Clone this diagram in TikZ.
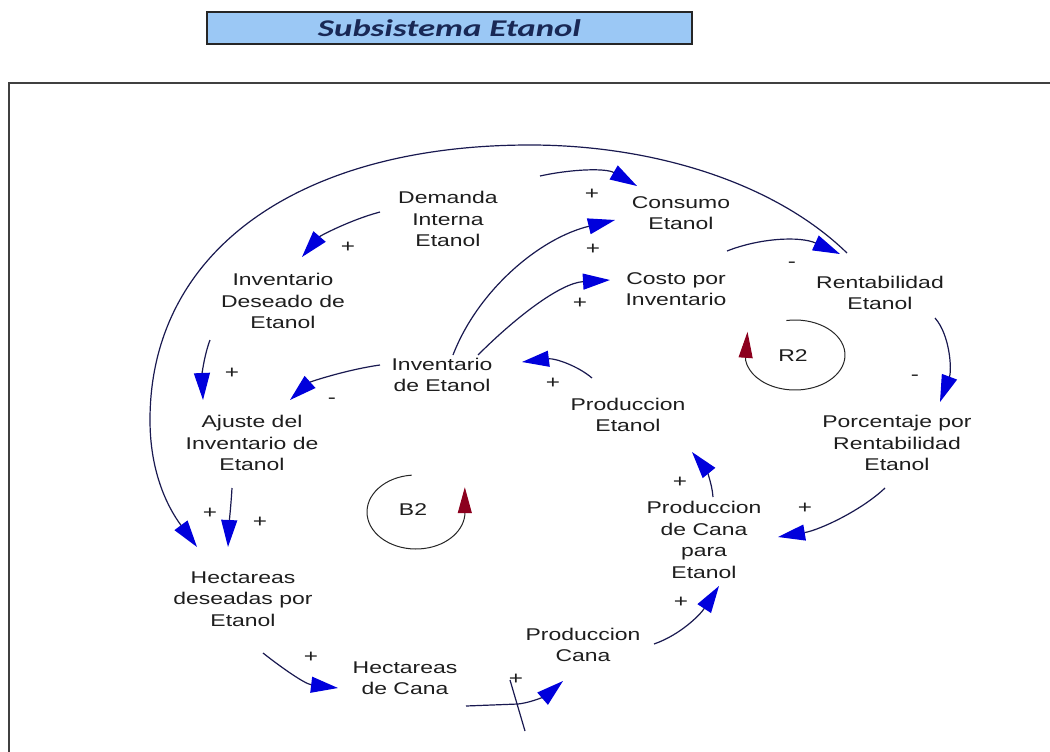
\documentclass[tikz,border=0pt]{standalone}
\usepackage{fontspec}
\setmainfont{Liberation Sans}
\newfontfamily\labelfont[FakeStretch=1.35]{Liberation Sans}
\newfontfamily\titlefont[FakeStretch=1.45]{Carlito}
\usetikzlibrary{arrows.meta}
\definecolor{linkcol}{RGB}{25,25,80}
\definecolor{headcol}{RGB}{0,0,220}
\definecolor{loopcol}{RGB}{140,0,30}
\definecolor{titlefill}{RGB}{155,200,245}
\definecolor{titletext}{RGB}{25,40,85}
\definecolor{textcol}{RGB}{30,30,30}
\begin{document}
\begin{tikzpicture}[x=1pt,y=-1pt,
  var/.style={align=center, inner sep=0pt, font=\labelfont\fontsize{17}{21.5}\selectfont, text=textcol},
  sign/.style={inner sep=0pt, font=\labelfont\fontsize{18}{18}\selectfont, text=textcol},
  link/.style={line width=1.2pt, draw=linkcol, -{Triangle[length=27pt,width=16pt,color=headcol]}},
  loopline/.style={line width=1pt, draw=black!85, -{Triangle[length=26pt,width=14pt,color=loopcol]}},
  delaymark/.style={line width=1.2pt, draw=linkcol},
]
\useasboundingbox (0,0) rectangle (1050,752);
\fill[white] (0,0) rectangle (1050,752);

% frame and title
\draw[line width=2pt, draw=black!75] (1050,83) -- (9,83) -- (9,752);
\node[draw=black!85, line width=1.5pt, fill=titlefill, minimum width=485pt, minimum height=32pt, inner sep=0pt,
      font=\titlefont\bfseries\itshape\fontsize{24}{24}\selectfont, text=titletext] (title) at (449.5,28) {Subsistema Etanol};

% variables
\node[var] (dem)    at (448,219) {Demanda\\Interna\\Etanol};
\node[var] (cons)   at (681,213) {Consumo\\Etanol};
\node[var] (costo)  at (676,289) {Costo por\\Inventario};
\node[var] (rent)   at (880,293) {Rentabilidad\\Etanol};
\node[var] (invdes) at (283,301) {Inventario\\Deseado de\\Etanol};
\node[var] (inv)    at (442,375) {Inventario\\de Etanol};
\node[var] (aju)    at (252,443) {Ajuste del\\Inventario de\\Etanol};
\node[var] (prodet) at (628,415) {Produccion\\Etanol};
\node[var] (porc)   at (897,443) {Porcentaje por\\Rentabilidad\\Etanol};
\node[var] (pcpe)   at (704,540) {Produccion\\de Cana\\para\\Etanol};
\node[var] (hdes)   at (243,599) {Hectareas\\deseadas por\\Etanol};
\node[var] (hcana)  at (405,678) {Hectareas\\de Cana};
\node[var] (pcana)  at (583,645) {Produccion\\Cana};

% causal links
\draw[link] ([shift={(92,-43)}]dem.center) .. controls (572,169) and (606,168) .. ([shift={(-44,-27)}]cons.center);
\draw[link] ([shift={(-68,-7)}]dem.center) .. controls (350,220) and (320,236) .. ([shift={(19,-44)}]invdes.center);
\draw[link] ([shift={(11,-20)}]inv.center) .. controls (478,290) and (540,238) .. ([shift={(-66,7)}]cons.center);
\draw[link] ([shift={(36,-20)}]inv.center) .. controls (515,318) and (560,283) .. ([shift={(-66,-9)}]costo.center);
\draw[link] ([shift={(46,38)}]cons.center) .. controls (760,238) and (800,236) .. ([shift={(-40,-39)}]rent.center);
\draw[link] ([shift={(-33,-40)}]rent.center) .. controls (774,182) and (652,145) .. (530,145)
            .. controls (300,145) and (150,250) .. (150,420)
            .. controls (150,470) and (166,505) .. ([shift={(-46,-52)}]hdes.center);
\draw[link] ([shift={(55,25)}]rent.center) .. controls (950,335) and (952,370) .. ([shift={(43,-41)}]porc.center);
\draw[link] ([shift={(-12,45)}]porc.center) .. controls (862,510) and (820,530) .. ([shift={(74,-3)}]pcpe.center);
\draw[link] ([shift={(9,-43)}]pcpe.center) .. controls (712,482) and (705,468) .. ([shift={(64,37)}]prodet.center);
\draw[link] ([shift={(-36,-37)}]prodet.center) .. controls (578,366) and (555,358) .. ([shift={(80,-13)}]inv.center);
\draw[link] ([shift={(-62,-10)}]inv.center) .. controls (345,370) and (310,382) .. ([shift={(38,-43)}]aju.center);
\draw[link] ([shift={(-73,39)}]invdes.center) .. controls (204,356) and (202,375) .. ([shift={(-49,-43)}]aju.center);
\draw[link] ([shift={(-20,45)}]aju.center) .. controls (231,505) and (229,525) .. ([shift={(-15,-52)}]hdes.center);
\draw[link] ([shift={(20,54)}]hdes.center) .. controls (282,668) and (305,684) .. ([shift={(-67,10)}]hcana.center);
\draw[link] ([shift={(61,28)}]hcana.center) -- (518,704) .. controls (535,702) and (548,694) .. ([shift={(-20,36)}]pcana.center);
\draw[delaymark] (510,680) -- (525,731);
\draw[link] ([shift={(71,-1)}]pcana.center) .. controls (680,635) and (700,615) .. ([shift={(15,46)}]pcpe.center);

% polarities
\node[sign] (s1)  at (592,194) {+};
\node[sign] (s2)  at (348,247) {+};
\node[sign] (s3)  at (593,249) {+};
\node[sign] (s4)  at (580,303) {+};
\node[sign] (s5)  at (792,265) {-};
\node[sign] (s6)  at (915,378) {-};
\node[sign] (s7)  at (805,508) {+};
\node[sign] (s8)  at (680,482) {+};
\node[sign] (s9)  at (553,383) {+};
\node[sign] (s10) at (332,401) {-};
\node[sign] (s11) at (232,373) {+};
\node[sign] (s12) at (210,513) {+};
\node[sign] (s13) at (260,522) {+};
\node[sign] (s14) at (311,657) {+};
\node[sign] (s15) at (516,679) {+};
\node[sign] (s16) at (681,602) {+};

% loop markers
\coordinate (r2c) at (795,355);
\node[var] (r2) at (793,356) {R2};
\draw[loopline] ([shift={(-100:50 and 35)}]r2c) arc[start angle=-100, end angle=172, x radius=50, y radius=35] -- ++(2,-28);
\coordinate (b2c) at (416,512);
\node[var] (b2) at (413,510) {B2};
\draw[loopline] ([shift={(-95:49 and 37)}]b2c) arc[start angle=-95, end angle=-355, x radius=49, y radius=37] -- ++(0,-28);
\end{tikzpicture}
\end{document}
